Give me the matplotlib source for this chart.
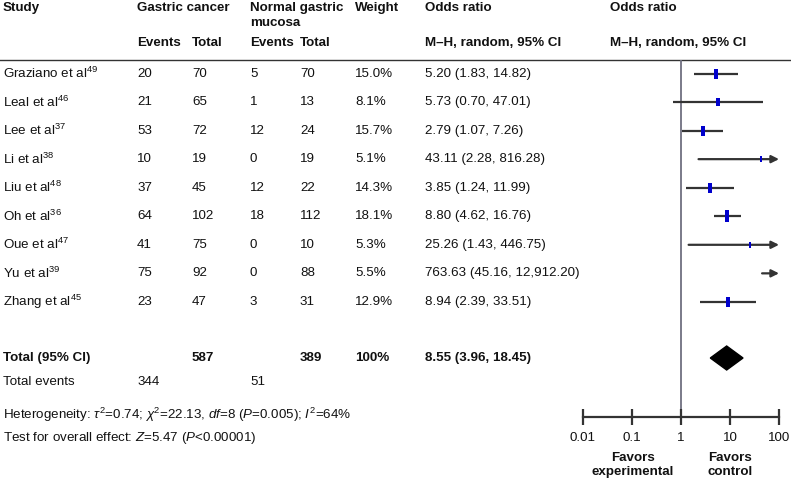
import matplotlib
matplotlib.use("Agg")
import matplotlib.pyplot as plt
import numpy as np

plt.rcParams['font.family'] = ['Liberation Sans', 'DejaVu Sans']
plt.rcParams['mathtext.fontset'] = 'custom'
plt.rcParams['mathtext.rm'] = 'Liberation Sans'
plt.rcParams['mathtext.it'] = 'Liberation Sans:italic'
plt.rcParams['mathtext.bf'] = 'Liberation Sans:bold'

# ---------------- data ----------------
studies = ["Graziano et al", "Leal et al", "Lee et al", "Li et al", "Liu et al",
           "Oh et al", "Oue et al", "Yu et al", "Zhang et al"]
refs = ["49", "46", "37", "38", "48", "36", "47", "39", "45"]
gc_events = [20, 21, 53, 10, 37, 64, 41, 75, 23]
gc_total = [70, 65, 72, 19, 45, 102, 75, 92, 47]
nm_events = [5, 1, 12, 0, 12, 18, 0, 0, 3]
nm_total = [70, 13, 24, 19, 22, 112, 10, 88, 31]
weights = [15.0, 8.1, 15.7, 5.1, 14.3, 18.1, 5.3, 5.5, 12.9]
odds = [5.20, 5.73, 2.79, 43.11, 3.85, 8.80, 25.26, 763.63, 8.94]
ci_lo = [1.83, 0.70, 1.07, 2.28, 1.24, 4.62, 1.43, 45.16, 2.39]
ci_hi = [14.82, 47.01, 7.26, 816.28, 11.99, 16.76, 446.75, 12912.20, 33.51]
or_labels = ["5.20 (1.83, 14.82)", "5.73 (0.70, 47.01)", "2.79 (1.07, 7.26)",
             "43.11 (2.28, 816.28)", "3.85 (1.24, 11.99)", "8.80 (4.62, 16.76)",
             "25.26 (1.43, 446.75)", "763.63 (45.16, 12,912.20)", "8.94 (2.39, 33.51)"]
total_gc, total_nm = 587, 389
events_gc, events_nm = 344, 51
pooled_or, pooled_lo, pooled_hi = 8.55, 3.96, 18.45
pooled_label = "8.55 (3.96, 18.45)"
axis_ticks = [0.01, 0.1, 1, 10, 100]
axis_labels = ["0.01", "0.1", "1", "10", "100"]

# ---------------- layout ----------------
W, H = 791, 479
fig = plt.figure(figsize=(W / 100, H / 100), dpi=100)
ax = fig.add_axes([0, 0, 1, 1])
ax.set_xlim(0, W)
ax.set_ylim(H, 0)
ax.axis('off')

FS = 9.6
cols = dict(study=3, ge=137, gt=192, ne=250, nt=300, w=355, orr=425, fh=610)
row0, dy = 73.5, 28.55
ys = [row0 + i * dy for i in range(len(studies))]
y_total, y_events = 358, 382

def t(x, y, s, bold=False, **kw):
    ax.text(x, y, s, fontsize=FS, fontweight='bold' if bold else 'normal',
            va='center', ha=kw.pop('ha', 'left'), color='#111111', **kw)

# headers
t(cols['study'], 8, "Study", True)
t(cols['ge'], 8, "Gastric cancer", True)
t(cols['ne'], 8, "Normal gastric", True)
t(cols['ne'], 23, "mucosa", True)
t(cols['w'], 8, "Weight", True)
t(cols['orr'], 8, "Odds ratio", True)
t(cols['fh'], 8, "Odds ratio", True)
for k, s in [('ge', "Events"), ('gt', "Total"), ('ne', "Events"), ('nt', "Total"),
             ('orr', "M–H, random, 95% CI"), ('fh', "M–H, random, 95% CI")]:
    t(cols[k], 43, s, True)
ax.plot([0, W], [60, 60], color='#333333', lw=1.0)

# rows
for i, y in enumerate(ys):
    t(cols['study'], y, studies[i] + r"$^{\mathregular{" + refs[i] + "}}$")
    t(cols['ge'], y, str(gc_events[i]))
    t(cols['gt'], y, str(gc_total[i]))
    t(cols['ne'], y, str(nm_events[i]))
    t(cols['nt'], y, str(nm_total[i]))
    t(cols['w'], y, f"{weights[i]:.1f}%")
    t(cols['orr'], y, or_labels[i])

t(cols['study'], y_total, "Total (95% CI)", True)
t(cols['gt'], y_total, str(total_gc), True)
t(cols['nt'], y_total, str(total_nm), True)
t(cols['w'], y_total, "100%", True)
t(cols['orr'], y_total, pooled_label, True)
t(cols['study'], y_events, "Total events")
t(cols['ge'], y_events, str(events_gc))
t(cols['ne'], y_events, str(events_nm))

t(cols['study'], 415, r"Heterogeneity: $\mathit{\tau}^{\mathregular{2}}$=0.74; "
  r"$\mathit{\chi}^{\mathregular{2}}$=22.13, $\mathit{df}$=8 ($\mathit{P}$=0.005); "
  r"$\mathit{I}^{\mathregular{2}}$=64%")
t(cols['study'], 438, r"Test for overall effect: $\mathit{Z}$=5.47 ($\mathit{P}$<0.00001)")

# ---------------- forest plot ----------------
x0, x1, ytop, yax = 583, 779, 60, 417
fx = fig.add_axes([x0 / W, (H - yax) / H, (x1 - x0) / W, (yax - ytop) / H])
fx.set_xscale('log')
fx.set_xlim(axis_ticks[0], axis_ticks[-1])
fx.set_ylim(yax, ytop)
fx.patch.set_alpha(0)
for s in ['top', 'left', 'right']:
    fx.spines[s].set_visible(False)
fx.spines['bottom'].set_color('#333333')
fx.spines['bottom'].set_linewidth(1.6)
fx.set_yticks([])
fx.set_xticks(axis_ticks)
fx.set_xticklabels(axis_labels)
fx.xaxis.set_minor_locator(matplotlib.ticker.NullLocator())
fx.tick_params(axis='x', direction='inout', length=12, width=1.6, color='#333333',
               labelsize=FS, pad=5, labelcolor='#111111')

fx.axvline(1, color='#6f6f80', lw=1.3, zorder=1)

line_c = '#333333'
rect = [(-0.42, -1), (0.42, -1), (0.42, 1), (-0.42, 1), (-0.42, -1)]
xmax = axis_ticks[-1]
for i, y in enumerate(ys):
    lo, hi = ci_lo[i], ci_hi[i]
    if hi > xmax:
        fx.annotate('', xy=(xmax, y), xytext=(lo, y),
                    arrowprops=dict(arrowstyle='-|>', color=line_c, lw=1.6,
                                    shrinkA=0, shrinkB=0, mutation_scale=11),
                    annotation_clip=False)
    else:
        fx.plot([lo, hi], [y, y], color=line_c, lw=1.6, solid_capstyle='butt', zorder=2)
    if odds[i] <= xmax:
        fx.plot([odds[i]], [y], marker=rect, color='#0000cc', ms=3.0 + 0.28 * weights[i],
                mew=0, zorder=3)

fx.fill([pooled_lo, pooled_or, pooled_hi, pooled_or],
        [y_total, y_total - 12, y_total, y_total + 12], color='black', zorder=3)

ax.text(633, 465, "Favors\nexperimental", fontsize=FS, fontweight='bold', ha='center',
        va='center', linespacing=1.25, color='#111111')
ax.text(730, 465, "Favors\ncontrol", fontsize=FS, fontweight='bold', ha='center',
        va='center', linespacing=1.25, color='#111111')

fig.savefig("out.png", dpi=100)
